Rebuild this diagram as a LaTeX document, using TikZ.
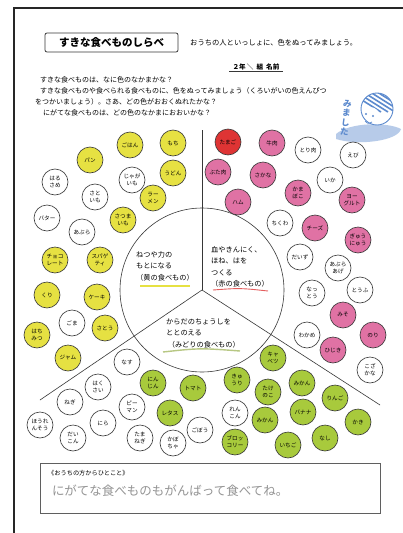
\documentclass[tikz,border=0pt]{standalone}
\usepackage{fontspec}
\setmainfont{Noto Sans CJK JP}
\definecolor{foodyellow}{RGB}{230,225,66}
\definecolor{foodgreen}{RGB}{168,202,60}
\definecolor{foodpink}{RGB}{224,114,164}
\definecolor{foodred}{RGB}{222,52,52}
\definecolor{pencil}{RGB}{55,55,55}
\definecolor{stampblue}{RGB}{92,138,206}
\tikzset{
  food/.style={circle,draw=pencil,line width=0.6pt,minimum size=26pt,inner sep=0pt,
    align=center,font=\fontsize{5.6}{6.6}\selectfont},
  yel/.style={food,fill=foodyellow},
  grn/.style={food,fill=foodgreen},
  pnk/.style={food,fill=foodpink},
  txt/.style={anchor=west,inner sep=0pt,font=\fontsize{7}{8}\selectfont},
  mid/.style={anchor=west,inner sep=0pt,align=left,font=\fontsize{7.2}{11.5}\selectfont}
}

\begin{document}
\begin{tikzpicture}[x=1pt,y=-1pt]
                \useasboundingbox (0,0) rectangle (403,533);
                \fill[white] (0,0) rectangle (403,533);
                % page edge
                \draw[line width=1.6pt,black!85] (14,533) -- (14,8) -- (403,8);

                % heading
                \node[draw=pencil,line width=0.8pt,rounded corners=2pt,minimum width=133pt,minimum height=19pt,
                    font=\bfseries\fontsize{10.5}{11}\selectfont] (title) at (111.5,42.5) {すきな食べものしらべ};
                \node[txt,font=\fontsize{7.3}{8}\selectfont] (howto) at (190,43) {おうちの人といっしょに、色をぬってみましょう。};
                \node[font=\bfseries\fontsize{6.6}{7}\selectfont,inner sep=0pt] (klass) at (256,67) {２年\,＼\ \ 組\ \ 名前};
                \draw[pencil,line width=0.5pt] (229,71) -- (283,71);

                \node[txt] (q1) at (40,80) {すきな食べものは、なに色のなかまかな？};
                \node[txt] (q2) at (40,91) {すきな食べものや食べられる食べものに、色をぬってみましょう（くろいがいの色えんぴつ};
                \node[txt] (q3) at (35,102) {をつかいましょう）。さあ、どの色がおおくぬれたかな？};
                \node[txt] (q4) at (43,113) {にがてな食べものは、どの色のなかまにおおいかな？};

                % stamp
                \fill[stampblue!55,opacity=.8] (336,134) .. controls (350,122) and (388,122) .. (401,129)
                    .. controls (398,141) and (358,146) .. (336,139) -- cycle;
                \fill[white] (377,109) circle [radius=16pt];
                \begin{scope}
                    \clip (377,109) circle [radius=16pt];
                    \foreach \s in {-14,-7,0,7,14}
                        \draw[stampblue,line width=1.6pt] (360+\s,90) -- (395+\s,112);
                    \fill[white] (370,117) circle [radius=10pt];
                \end{scope}
                \draw[stampblue,line width=0.9pt] (377,109) circle [radius=16pt];
                \fill[stampblue] (366,114) circle [radius=1.1pt] (373,116) circle [radius=1.1pt];
                \draw[stampblue,line width=0.7pt] (365,121) .. controls (368,124) .. (372,122);
                \node[text=stampblue,font=\bfseries\fontsize{8.5}{9.5}\selectfont,align=center,inner sep=0pt,rotate=-6]
                    (seen) at (346,118) {み\\ま\\し\\た};

                % the three groups
                \coordinate (hub) at (202,290);
                \draw[pencil,line width=0.6pt] (hub) circle [radius=82pt];
                \coordinate (top) at (202,130);
                \coordinate (lowleft) at (40,400);
                \coordinate (lowright) at (380,405);
                \draw[pencil,line width=0.6pt] (hub) -- (top);
                \draw[pencil,line width=0.6pt] (hub) -- (lowleft);
                \draw[pencil,line width=0.6pt] (hub) -- (lowright);

                \node[mid] (yellowtxt) at (136,266) {ねつや力の\\もとになる\\（黄の食べもの）};
                \draw[foodyellow,line width=1.4pt] (140,286) -- (190,286);
                \node[mid] (redtxt) at (211,267) {血やきんにく、\\ほね、はを\\つくる\\（赤の食べもの）};
                \draw[foodred!80,line width=0.9pt] (213,290) .. controls (240,288) .. (268,291);
                \node[mid] (greentxt) at (166,333) {からだのちょうしを\\ととのえる\\\ （みどりの食べもの）};
                \draw[foodgreen!80!black!60!white,line width=1.4pt] (163,352) .. controls (200,348) .. (240,351);

                % yellow foods
                \foreach \x/\y/\t [count=\i] in {130/145/ごはん,173/143/もち,90/160/パン,173/173/うどん,
                        153/198/{ラー\\メン},123/220/{さつま\\いも},55/260/{チョコ\\レート},100/260/{スパゲ\\ティ},
                        47/295/くり,97/297/ケーキ,37/335/{はち\\みつ},105/328/さとう,68/358/ジャム}
                    \node[yel] (y\i) at (\x,\y) {\t};
                \foreach \x/\y/\t [count=\i] in {55/182/{はる\\さめ},132/180/{じゃが\\いも},95/197/{さと\\いも},
                        47/218/バター,82/232/あぶら,72/323/ごま}
                    \node[food] (yw\i) at (\x,\y) {\t};

                % red foods
                \node[food,fill=foodred] (egg) at (228,142) {たまご};
                \foreach \x/\y/\t [count=\i] in {272/143/牛肉,218/172/ぶた肉,263/175/さかな,298/193/{かま\\ぼこ},
                        238/202/ハム,352/200/{ヨー\\グルト},315/228/チーズ,358/240/{ぎゅう\\にゅう},
                        343/315/みそ,373/335/のり,333/350/ひじき}
                    \node[pnk] (r\i) at (\x,\y) {\t};
                \foreach \x/\y/\t [count=\i] in {308/150/とり肉,353/155/えび,330/180/いか,280/223/ちくわ,
                        300/257/だいず,338/268/{あぶら\\あげ},312/293/{なっ\\とう},360/290/とうふ,
                        307/335/わかめ,370/370/{こざ\\かな}}
                    \node[food] (rw\i) at (\x,\y) {\t};

                % green foods
                \foreach \x/\y/\t [count=\i] in {153/383/{にん\\じん},193/388/トマト,170/413/レタス,273/358/{キャ\\ベツ},
                        237/380/{きゅ\\うり},268/392/{たけ\\のこ},302/383/みかん,265/420/みかん,303/412/バナナ,
                        335/398/りんご,288/445/いちご,325/438/なし,358/422/かき,235/442/{ブロッ\\コリー}}
                    \node[grn] (g\i) at (\x,\y) {\t};
                \foreach \x/\y/\t [count=\i] in {127/362/なす,98/387/{はく\\さい},70/402/ねぎ,132/407/{ピー\\マン},
                        103/423/にら,40/425/{ほうれ\\んそう},73/438/{だい\\こん},140/438/{たま\\ねぎ},
                        173/443/{かぼ\\ちゃ},200/430/ごぼう,235/413/{れん\\こん}}
                    \node[food] (gw\i) at (\x,\y) {\t};

                % note from home
                \draw[pencil!80,line width=0.6pt] (40,463) rectangle (380,513);
                \node[txt,font=\fontsize{6.2}{7}\selectfont] (notehead) at (48,473) {《おうちの方からひとこと》};
                \node[txt,text=black!42,font=\fontsize{12.5}{14}\selectfont] (note) at (52,491) {にがてな食べものもがんばって食べてね。};
            \end{tikzpicture}
\end{document}
